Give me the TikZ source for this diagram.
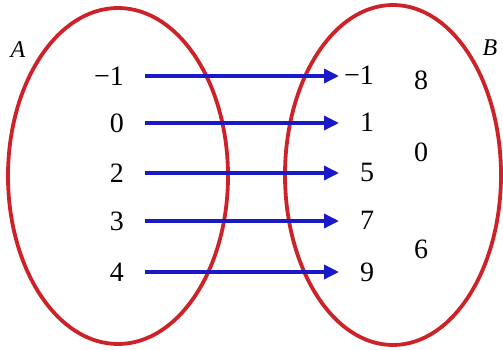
\documentclass[tikz,border=0pt]{standalone}
\usepackage{fontspec}
\setmainfont{Liberation Serif}
\usetikzlibrary{arrows.meta}
\definecolor{setred}{RGB}{205,35,40}
\definecolor{arrblue}{RGB}{25,25,200}
\begin{document}
\begin{tikzpicture}[x=1pt,y=-1pt,
  setline/.style={draw=setred,line width=3.8pt},
  num/.style={font=\fontsize{28}{30}\selectfont,inner sep=0pt},
  lab/.style={font=\fontsize{24}{28}\selectfont\itshape,inner sep=0pt},
  maparrow/.style={draw=arrblue,line width=3.4pt,-{Triangle[length=15pt,width=14pt]}}]
\useasboundingbox (0,0) rectangle (503,350);
\draw[setline] (118,176) ellipse [x radius=110, y radius=168];
\draw[setline] (393,175) ellipse [x radius=108, y radius=170];
\node[lab] (A) at (18,50) {A};
\node[lab] (B) at (490,48) {B};
% domain
\node[num,anchor=east] (a1) at (124,76) {−1};
\node[num,anchor=east] (a2) at (124,123) {0};
\node[num,anchor=east] (a3) at (124,173) {2};
\node[num,anchor=east] (a4) at (124,221) {3};
\node[num,anchor=east] (a5) at (124,272) {4};
% codomain
\node[num,anchor=west] (b1) at (344,75) {−1};
\node[num] (b2) at (367,122) {1};
\node[num] (b3) at (367,172) {5};
\node[num] (b4) at (367,220) {7};
\node[num] (b5) at (367,272) {9};
\node[num] (c1) at (421,80) {8};
\node[num] (c2) at (421,152) {0};
\node[num] (c3) at (421,249) {6};
% arrow columns
\coordinate (sx) at (145,0);
\coordinate (ex) at (339,0);
\draw[maparrow] (sx |- a1.east) -- (ex |- a1.east);
\draw[maparrow] (sx |- a2.east) -- (ex |- a2.east);
\draw[maparrow] (sx |- a3.east) -- (ex |- a3.east);
\draw[maparrow] (sx |- a4.east) -- (ex |- a4.east);
\draw[maparrow] (sx |- a5.east) -- (ex |- a5.east);
\end{tikzpicture}
\end{document}
